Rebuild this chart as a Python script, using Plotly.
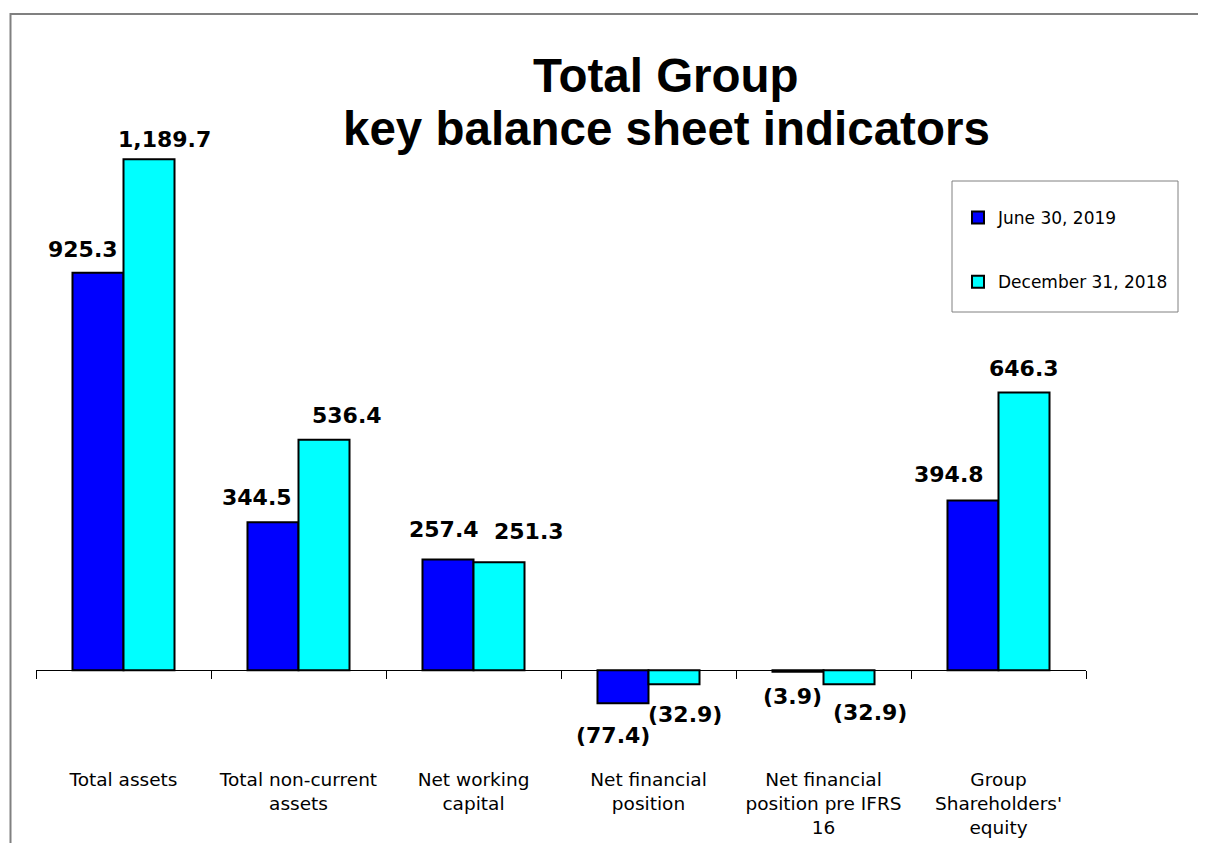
import plotly.graph_objects as go

categories = ["Total assets", "Total non-current<br>assets", "Net working<br>capital",
              "Net financial<br>position", "Net financial<br>position pre IFRS<br>16",
              "Group<br>Shareholders'<br>equity"]
series_names = ["June 30, 2019", "December 31, 2018"]
june_2019 = [925.3, 344.5, 257.4, -77.4, -3.9, 394.8]
dec_2018 = [1189.7, 536.4, 251.3, -32.9, -32.9, 646.3]

# label nudges (styling, pixels)
label_dx = [[-15, -16, -4, -10, -6, -24], [15, 23, 30, 11, 21, 0]]
label_dy = [[23, 25, 30, 32, 25, 26], [20, 24, 31, 30, 28, 24]]

colors = ["#0000FF", "#00FFFF"]

Y_MIN, Y_MAX = -200, 1400

# page body has an 8px margin; lay out in figure pixels
OFF = 8
W, H = 1206 - OFF, 843 - OFF
PL, PR = 36 - OFF, 1086 - OFF   # plot area left/right
PT, PB = 69 - OFF, 756 - OFF    # plot area top/bottom
PW, PH = PR - PL, PB - PT


def px_x(x):  # reference x pixel -> paper
    return (x - OFF - PL) / PW


def px_y(y):  # reference y pixel -> paper
    return (PB - (y - OFF)) / PH


def fmt(v):
    s = f"{abs(v):,.1f}"
    return f"({s})" if v < 0 else s


fig = go.Figure()
for i, (name, vals) in enumerate(zip(series_names, [june_2019, dec_2018])):
    fig.add_trace(go.Bar(
        x=categories, y=vals, name=name,
        marker=dict(color=colors[i], line=dict(color="black", width=2)),
        legendgroup=f"g{i}",
    ))

annotations = []
for i, vals in enumerate([june_2019, dec_2018]):
    side = -25.5 if i == 0 else 25.5
    for j, v in enumerate(vals):
        dy = label_dy[i][j]
        annotations.append(dict(
            x=categories[j], y=v, xref="x", yref="y",
            text=fmt(v), showarrow=False,
            xshift=side + label_dx[i][j], yshift=dy if v >= 0 else -dy,
            xanchor="center", yanchor="middle",
            font=dict(family="DejaVu Sans", size=22, color="black", weight="bold"),
        ))

title_font = dict(family="Liberation Sans", size=47.5, color="black", weight="bold")
annotations.append(dict(text="Total Group", xref="paper", yref="paper", x=px_x(666), y=px_y(75),
                        showarrow=False, xanchor="center", yanchor="middle", font=title_font))
annotations.append(dict(text="key balance sheet indicators", xref="paper", yref="paper", x=px_x(666),
                        y=px_y(129), showarrow=False, xanchor="center", yanchor="middle", font=title_font))

fig.update_layout(
    width=W, height=H, autosize=False,
    margin=dict(l=PL, r=W - PR, t=PT, b=H - PB, autoexpand=False),
    paper_bgcolor="white", plot_bgcolor="white",
    barmode="group", bargap=0.417, bargroupgap=0,
    showlegend=True,
    legend=dict(x=px_x(958), y=px_y(200), xanchor="left", yanchor="top",
                bgcolor="rgba(0,0,0,0)", borderwidth=0, tracegroupgap=39,
                font=dict(family="DejaVu Sans", size=17, color="black")),
    xaxis=dict(
        anchor="free", position=(0 - Y_MIN) / (Y_MAX - Y_MIN), automargin=False,
        range=[-0.5, 5.5], showline=True, linecolor="black", linewidth=1,
        ticks="outside", tickson="boundaries", ticklen=8, tickcolor="black",
        showgrid=False, zeroline=False,
        tickfont=dict(family="DejaVu Sans", size=18.5, color="black"),
        ticklabelstandoff=93,
    ),
    yaxis=dict(range=[Y_MIN, Y_MAX], visible=False, showgrid=False, zeroline=False,
               automargin=False),
    annotations=annotations,
    shapes=[
        dict(type="rect", xref="paper", yref="paper",
             x0=px_x(952), x1=px_x(1178), y0=px_y(312), y1=px_y(181),
             line=dict(color="#808080", width=1), fillcolor="rgba(0,0,0,0)", layer="below"),
        dict(type="path", xref="paper", yref="paper",
             path=f"M {px_x(10.5)} -0.3 L {px_x(10.5)} {px_y(14)} L 1.2 {px_y(14)}",
             line=dict(color="#808080", width=2)),
    ],
)

fig.write_html("out.html")
